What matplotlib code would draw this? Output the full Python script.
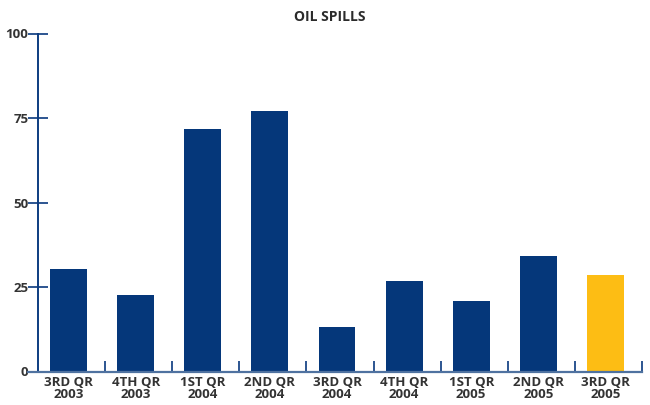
import matplotlib.pyplot as plt

# Data
quarters = ['3RD QR\n2003', '4TH QR\n2003', '1ST QR\n2004', '2ND QR\n2004', '3RD QR\n2004',
            '4TH QR\n2004', '1ST QR\n2005', '2ND QR\n2005', '3RD QR\n2005']
spills = [30.3, 22.6, 71.6, 77.2, 13.2, 26.8, 20.9, 34.1, 28.5]
bar_colors = ['#05377a'] * 8 + ['#fdbd14']
y_ticks = [0, 25, 50, 75, 100]

plt.rcParams['font.family'] = ['Open Sans', 'DejaVu Sans']
plt.rcParams['font.weight'] = 'bold'

fig = plt.figure(figsize=(6.5, 4.05), dpi=100)
ax = fig.add_axes([38 / 650, (405 - 371.5) / 405, 604 / 650, 338 / 405])

x = list(range(len(quarters)))
# bars sit slightly left of the category centre in the original
ax.bar([i - 0.045 for i in x], spills, width=0.55, color=bar_colors, zorder=2)

ax.set_xlim(-0.5, len(quarters) - 0.5)
ax.set_ylim(0, 100)

axis_col = '#2c5590'
for side in ['top', 'right']:
    ax.spines[side].set_visible(False)
ax.spines['left'].set_color('#0d3c80')
ax.spines['left'].set_linewidth(1.4)
ax.spines['bottom'].set_color('#4f72a0')
ax.spines['bottom'].set_linewidth(1.6)
ax.spines['bottom'].set_bounds(-0.65, len(quarters) - 0.5)
ax.spines['bottom'].set_zorder(3)

ax.set_yticks(y_ticks)
ax.set_yticklabels([str(v) for v in y_ticks])
ax.tick_params(axis='y', direction='inout', length=14, width=1.4, color=axis_col,
               labelsize=9.5, labelcolor='#333333', pad=0)

ax.set_xticks([i - 0.045 for i in x])
ax.set_xticklabels(quarters, linespacing=0.95)
ax.tick_params(axis='x', length=0, labelsize=9.5, labelcolor='#333333', pad=3)
ax.set_xticks([i + 0.5 for i in x], minor=True)
ax.tick_params(axis='x', which='minor', direction='in', length=8, width=1.4, color=axis_col)

fig.text(330 / 650, 1 - 17 / 405, 'OIL SPILLS', ha='center', va='center',
         fontsize=10, fontweight='bold', color='#2b2b2b')

fig.savefig('out.png', dpi=100)
